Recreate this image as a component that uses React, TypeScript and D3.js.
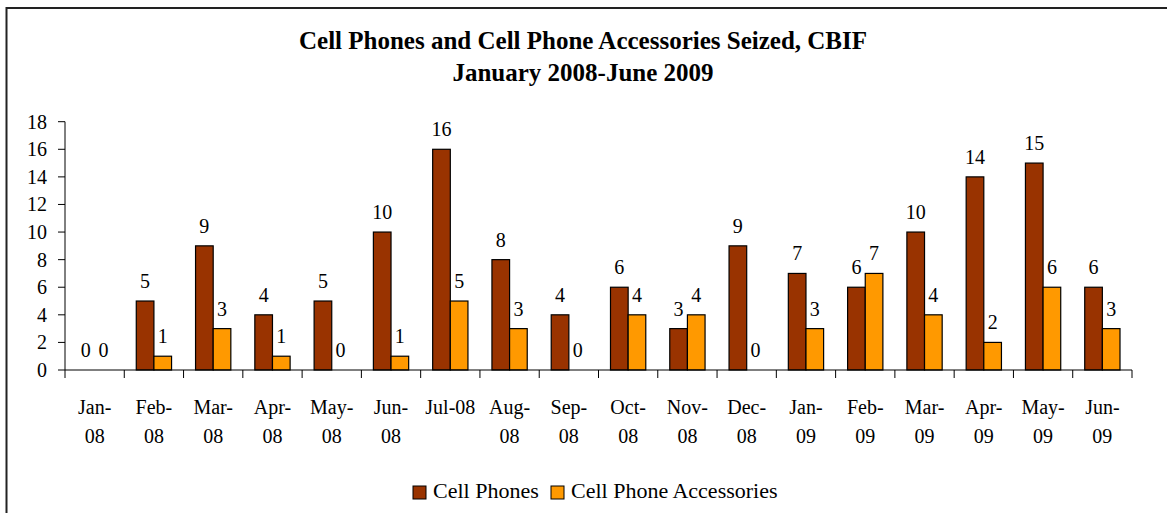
import { useEffect, useRef } from "react";
import * as d3 from "d3";

const months = [
  "Jan-08", "Feb-08", "Mar-08", "Apr-08", "May-08", "Jun-08",
  "Jul-08", "Aug-08", "Sep-08", "Oct-08", "Nov-08", "Dec-08",
  "Jan-09", "Feb-09", "Mar-09", "Apr-09", "May-09", "Jun-09",
];
const cellPhones = [0, 5, 9, 4, 5, 10, 16, 8, 4, 6, 3, 9, 7, 6, 10, 14, 15, 6];
const accessories = [0, 1, 3, 1, 0, 1, 5, 3, 0, 4, 4, 0, 3, 7, 4, 2, 6, 3];
const seriesNames = ["Cell Phones", "Cell Phone Accessories"];
const seriesColors = ["#993300", "#FF9900"];
const yTicks = [0, 2, 4, 6, 8, 10, 12, 14, 16, 18];

const FONT = "'Liberation Serif', 'Times New Roman', serif";

const App = () => {
  const ref = useRef<SVGSVGElement | null>(null);

  useEffect(() => {
    if (!ref.current) return;
    const width = 1167;
    const height = 513;
    const left = 65;
    const right = 1132;
    const top = 121.7;
    const bottom = 370;

    const svg = d3.select(ref.current);
    svg.selectAll("*").remove();
    svg.attr("width", width).attr("height", height);

    svg
      .append("rect")
      .attr("width", width)
      .attr("height", height)
      .attr("fill", "#fff");

    // frame (only top and left edges are inside the picture)
    svg
      .append("rect")
      .attr("x", 6.5)
      .attr("y", 8)
      .attr("width", width + 20)
      .attr("height", height + 20)
      .attr("fill", "none")
      .attr("stroke", "#222")
      .attr("stroke-width", 2);

    const title = svg
      .append("text")
      .attr("font-family", FONT)
      .attr("font-weight", "bold")
      .attr("font-size", 25)
      .attr("text-anchor", "middle");
    title.append("tspan").attr("x", 583).attr("y", 49).text("Cell Phones and Cell Phone Accessories Seized, CBIF");
    title.append("tspan").attr("x", 583).attr("y", 81).text("January 2008-June 2009");

    const x = d3.scaleBand<string>().domain(months).range([left, right]).padding(0);
    const xSub = d3
      .scaleBand<number>()
      .domain([0, 1])
      .range([0, x.bandwidth()])
      .paddingInner(0)
      .paddingOuter(0.68);
    const y = d3.scaleLinear().domain([0, 18]).range([bottom, top]);

    const g = svg.append("g");

    // y axis
    g.append("line")
      .attr("x1", left)
      .attr("x2", left)
      .attr("y1", y(18))
      .attr("y2", y(0))
      .attr("stroke", "#000");
    yTicks.forEach((t) => {
      g.append("line")
        .attr("x1", left - 7)
        .attr("x2", left)
        .attr("y1", y(t))
        .attr("y2", y(t))
        .attr("stroke", "#000");
      g.append("text")
        .attr("x", left - 18)
        .attr("y", y(t) + 7)
        .attr("text-anchor", "end")
        .attr("font-family", FONT)
        .attr("font-size", 20)
        .text(t);
    });

    const series = [cellPhones, accessories];

    // bars
    series.forEach((vals, si) => {
      g.selectAll(`rect.s${si}`)
        .data(vals)
        .join("rect")
        .attr("class", `s${si}`)
        .attr("x", (_, i) => (x(months[i]) ?? 0) + (xSub(si) ?? 0))
        .attr("y", (d) => y(d))
        .attr("width", xSub.bandwidth())
        .attr("height", (d) => y(0) - y(d))
        .attr("fill", seriesColors[si])
        .attr("stroke", (d) => (d > 0 ? "#000" : "none"))
        .attr("stroke-width", 1.2);

      g.selectAll(`text.l${si}`)
        .data(vals)
        .join("text")
        .attr("class", `l${si}`)
        .attr("x", (_, i) => (x(months[i]) ?? 0) + (xSub(si) ?? 0) + xSub.bandwidth() / 2)
        .attr("y", (d) => y(d) - 13)
        .attr("text-anchor", "middle")
        .attr("font-family", FONT)
        .attr("font-size", 20)
        .text((d) => d);
    });

    // x axis
    g.append("line")
      .attr("x1", left)
      .attr("x2", right)
      .attr("y1", y(0))
      .attr("y2", y(0))
      .attr("stroke", "#000");
    const boundaries = months.map((m) => x(m) ?? 0).concat([right]);
    boundaries.forEach((bx) => {
      g.append("line")
        .attr("x1", bx)
        .attr("x2", bx)
        .attr("y1", y(0))
        .attr("y2", y(0) + 8)
        .attr("stroke", "#000");
    });
    months.forEach((m) => {
      const cx = (x(m) ?? 0) + x.bandwidth() / 2;
      const t = g
        .append("text")
        .attr("text-anchor", "middle")
        .attr("font-family", FONT)
        .attr("font-size", 20);
      if (m === "Jul-08") {
        t.append("tspan").attr("x", cx).attr("y", 414).text(m);
      } else {
        const [a, b] = m.split("-");
        t.append("tspan").attr("x", cx).attr("y", 414).text(a + "-");
        t.append("tspan").attr("x", cx).attr("y", 443).text(b);
      }
    });

    // legend
    const legend = svg.append("g");
    const legendX = [413, 551];
    seriesNames.forEach((name, i) => {
      legend
        .append("rect")
        .attr("x", legendX[i])
        .attr("y", 486)
        .attr("width", 13)
        .attr("height", 13)
        .attr("fill", seriesColors[i])
        .attr("stroke", "#000")
        .attr("stroke-width", 1);
      legend
        .append("text")
        .attr("x", legendX[i] + 20)
        .attr("y", 498)
        .attr("font-family", FONT)
        .attr("font-size", 22)
        .text(name);
    });
  }, []);

  return <svg ref={ref} style={{ position: "absolute", left: 0, top: 0 }}></svg>;
};

export default App;
